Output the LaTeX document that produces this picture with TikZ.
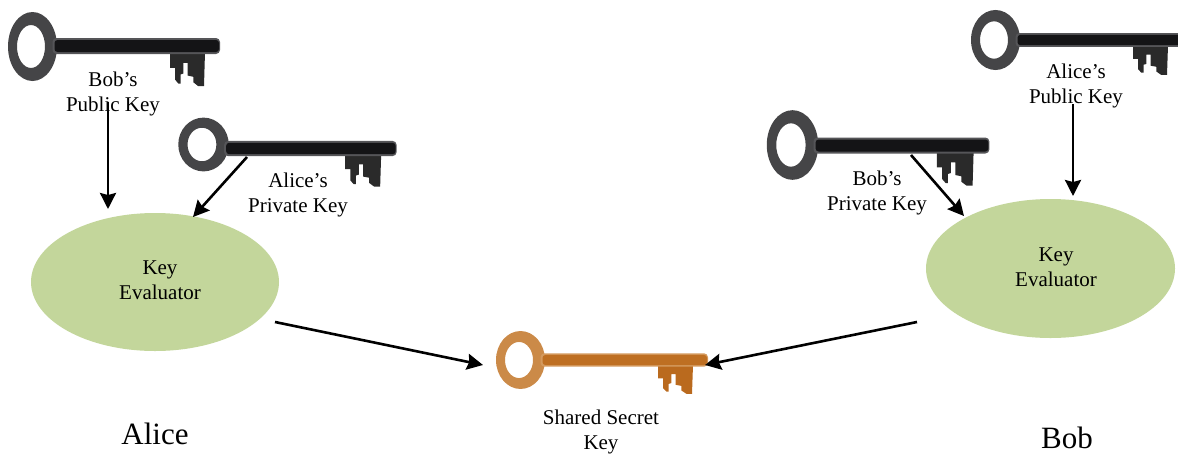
\documentclass[tikz,border=0pt]{standalone}
\usepackage{fontspec}
\setmainfont{Liberation Serif}
\newfontfamily\namefont{Liberation Serif}
\usetikzlibrary{shapes.geometric,arrows.meta}
\definecolor{evalgreen}{HTML}{C3D69B}
\definecolor{ringdark}{HTML}{454547}
\definecolor{edgedark}{HTML}{555558}
\definecolor{shankdark}{HTML}{141416}
\definecolor{bitdark}{HTML}{2A2A2A}
\definecolor{ringgold}{HTML}{CB8A48}
\definecolor{edgegold}{HTML}{D49A5E}
\definecolor{shankgold}{HTML}{BE6F22}
\definecolor{bitgold}{HTML}{BA6A1E}
% #1 ring centre x; #2 shank centre y; #3,#4 body scales; #5 ring centre y; #6 ring y scale; #7 theme
\newcommand{\KeyAt}[7]{%
  \begin{scope}[shift={(#1,#5)},xscale=#3,yscale=#6]
    \fill[ring#7,even odd rule] (0,0) ellipse [x radius=24.5,y radius=34.5]
      (-1.5,0) ellipse [x radius=14,y radius=21.5];
  \end{scope}
  \begin{scope}[shift={(#1,#2)},xscale=#3,yscale=#4]
    \fill[bit#7] (137.5,6) -- (137.5,21.8) -- (142.5,21.8) -- (142.5,33.5) -- (145.8,37.5)
      -- (148,37.5) -- (148,28.5) -- (150.8,27.5) -- (150.8,16.8) -- (155,16.8) -- (155,29.5)
      -- (160.8,30.8) -- (160.8,36.2) -- (165.8,40.2) -- (171.5,40.2) -- (172.5,6) -- cycle;
    \fill[edge#7,rounded corners=4pt] (20,-8) rectangle (187.5,8);
    \fill[shank#7,rounded corners=3pt] (22,-6) rectangle (186.5,6);
  \end{scope}}
\tikzset{
  keylabel/.style={align=center,inner sep=0pt,font=\fontsize{21}{25}\selectfont},
  evalnode/.style={ellipse,fill=evalgreen,inner sep=0pt},
  personlabel/.style={inner sep=0pt,font=\namefont\fontsize{31}{34}\selectfont},
  flow/.style={-{Stealth[length=16pt,width=16pt,inset=2pt]},line width=2.6pt,black}
}
\begin{document}
\begin{tikzpicture}[x=1pt,y=-1pt]
  \useasboundingbox (0,0) rectangle (1178,453);
  \clip (0,0) rectangle (1178,453);
  \KeyAt{32.5}{46}{1}{1}{46.5}{1}{dark}
  \KeyAt{203.5}{148.5}{1.03}{0.95}{144.5}{0.78}{dark}
  \KeyAt{792.5}{145.5}{1.05}{1}{145}{1.01}{dark}
  \KeyAt{995.5}{40}{1}{0.87}{40}{0.87}{dark}
  \KeyAt{520.5}{360}{1}{0.84}{360}{0.84}{gold}

  \node[evalnode,minimum width=248pt,minimum height=138pt] (evalA) at (155,282) {};
  \node[evalnode,minimum width=249pt,minimum height=139pt] (evalB) at (1050.5,268.5) {};

  \node[keylabel] (bobpub) at (113,94) {Bob’s\\Public Key};
  \node[keylabel] (alicepriv) at (298,195) {Alice’s\\Private Key};
  \node[keylabel] (bobpriv) at (877,193) {Bob’s\\Private Key};
  \node[keylabel] (alicepub) at (1076,86) {Alice’s\\Public Key};
  \node[keylabel] (evalAtext) at (160,280) {Key\\Evaluator};
  \node[keylabel] (evalBtext) at (1056,267) {Key\\Evaluator};
  \node[keylabel] (shared) at (601,432) {Shared Secret\\Key};
  \node[personlabel] (alice) at (155,434) {Alice};
  \node[personlabel] (bob) at (1067,438) {Bob};

  \coordinate (a1) at (108,102);  \coordinate (a1e) at (108,209);
  \coordinate (a2) at (247,157);  \coordinate (a2e) at (193,217);
  \coordinate (a3) at (275,322);  \coordinate (a3e) at (483,365);
  \coordinate (b1) at (917,322);  \coordinate (b1e) at (705,365);
  \coordinate (b2) at (911,155);  \coordinate (b2e) at (964,216);
  \coordinate (b3) at (1073,104); \coordinate (b3e) at (1073,196);
  \draw[flow] (a1) -- (a1e);
  \draw[flow] (a2) -- (a2e);
  \draw[flow] (a3) -- (a3e);
  \draw[flow] (b1) -- (b1e);
  \draw[flow] (b2) -- (b2e);
  \draw[flow] (b3) -- (b3e);
\end{tikzpicture}
\end{document}
